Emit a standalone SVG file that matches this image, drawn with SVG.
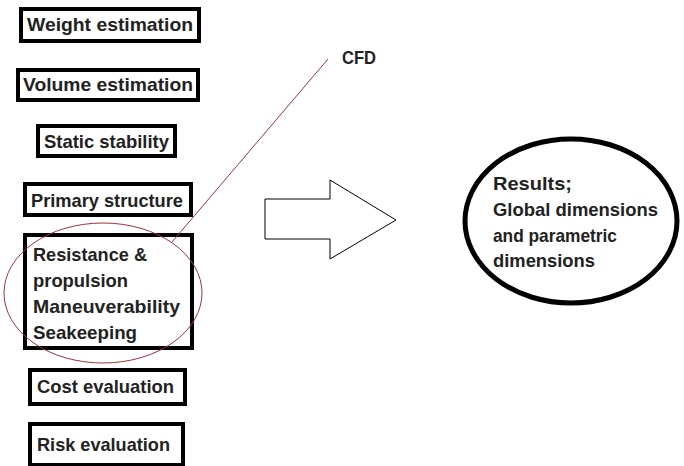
<svg xmlns="http://www.w3.org/2000/svg" width="684" height="466" viewBox="0 0 684 466">
<style>
.box{fill:#fff;stroke:#000;stroke-width:4}
.t{font-family:"Liberation Sans",Arial,sans-serif;font-weight:bold;font-size:19px;fill:#222}
.red{fill:none;stroke:#a0333a;stroke-width:1}
</style>
<rect width="684" height="466" fill="#fff"/>
<g id="weight"><rect class="box" x="21" y="9" width="178" height="32"/><text class="t" x="27" y="31" textLength="166" lengthAdjust="spacingAndGlyphs">Weight estimation</text></g>
<g id="volume"><rect class="box" x="18" y="70" width="180" height="30"/><text class="t" x="23" y="91" textLength="170" lengthAdjust="spacingAndGlyphs">Volume estimation</text></g>
<g id="static"><rect class="box" x="38" y="126" width="137" height="30"/><text class="t" x="44" y="148" textLength="125" lengthAdjust="spacingAndGlyphs">Static stability</text></g>
<g id="primary"><rect class="box" x="25" y="184" width="166" height="31"/><text class="t" x="31" y="207" textLength="152" lengthAdjust="spacingAndGlyphs">Primary structure</text></g>
<g id="resistance"><rect class="box" x="25" y="235" width="167" height="113"/>
<text class="t" x="33" y="261" textLength="114" lengthAdjust="spacingAndGlyphs">Resistance &amp;</text>
<text class="t" x="33" y="287" textLength="95" lengthAdjust="spacingAndGlyphs">propulsion</text>
<text class="t" x="33" y="313" textLength="147" lengthAdjust="spacingAndGlyphs">Maneuverability</text>
<text class="t" x="33" y="339" textLength="104" lengthAdjust="spacingAndGlyphs">Seakeeping</text></g>
<g id="cost"><rect class="box" x="30" y="370" width="155" height="34"/><text class="t" x="37" y="393" textLength="137" lengthAdjust="spacingAndGlyphs">Cost evaluation</text></g>
<g id="risk"><rect class="box" x="30" y="424" width="153" height="41"/><text class="t" x="37" y="451" textLength="133" lengthAdjust="spacingAndGlyphs">Risk evaluation</text></g>
<g id="cfd-highlight">
<ellipse class="red" cx="103" cy="293" rx="99" ry="70"/>
<line class="red" x1="172" y1="242" x2="328" y2="59"/>
<text class="t" x="342" y="64" textLength="34" lengthAdjust="spacingAndGlyphs">CFD</text>
</g>
<g id="connectors">
<polygon points="265,199 330,199 330,180 396,220 330,259 330,239 265,239" fill="#fff" stroke="#000" stroke-width="1"/>
</g>
<g id="results">
<ellipse cx="571" cy="221" rx="106" ry="82" fill="#fff" stroke="#000" stroke-width="5"/>
<text class="t" x="493" y="190" textLength="79" lengthAdjust="spacingAndGlyphs">Results;</text>
<text class="t" x="493" y="216" textLength="165" lengthAdjust="spacingAndGlyphs">Global dimensions</text>
<text class="t" x="493" y="242" textLength="124" lengthAdjust="spacingAndGlyphs">and parametric</text>
<text class="t" x="493" y="267" textLength="102" lengthAdjust="spacingAndGlyphs">dimensions</text>
</g>
</svg>
